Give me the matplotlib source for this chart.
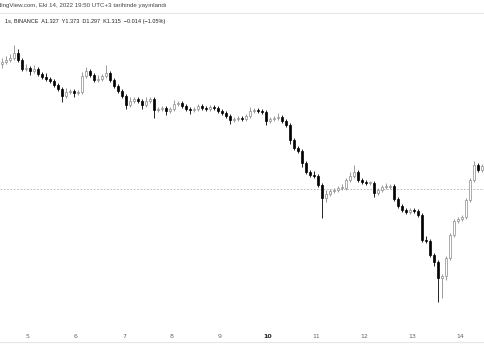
import matplotlib.pyplot as plt
from matplotlib.lines import Line2D

# 2 saatlik mumlar, 4 Ekim 10:00'dan itibaren (kapanislar)
closes = [1.3690, 1.3700, 1.3710, 1.3735, 1.3700, 1.3655, 1.3660, 1.3645, 1.3655, 1.3630,
          1.3615, 1.3605, 1.3595, 1.3575, 1.3555, 1.3520, 1.3540, 1.3545, 1.3535, 1.3540,
          1.3620, 1.3645, 1.3625, 1.3600, 1.3605, 1.3620, 1.3635, 1.3600, 1.3570, 1.3545,
          1.3520, 1.3475, 1.3495, 1.3505, 1.3495, 1.3475, 1.3495, 1.3505, 1.3450, 1.3455,
          1.3460, 1.3445, 1.3455, 1.3480, 1.3485, 1.3470, 1.3455, 1.3450, 1.3455, 1.3470,
          1.3460, 1.3455, 1.3465, 1.3460, 1.3445, 1.3435, 1.3420, 1.3400, 1.3405, 1.3410,
          1.3405, 1.3420, 1.3445, 1.3450, 1.3445, 1.3440, 1.3395, 1.3405, 1.3410, 1.3415,
          1.3395, 1.3375, 1.3300, 1.3260, 1.3245, 1.3185, 1.3140, 1.3125, 1.3120, 1.3075,
          1.3010, 1.3030, 1.3045, 1.3050, 1.3060, 1.3060, 1.3100, 1.3120, 1.3140, 1.3100,
          1.3090, 1.3085, 1.3085, 1.3035, 1.3050, 1.3065, 1.3065, 1.3070, 1.3005, 1.2970,
          1.2950, 1.2940, 1.2950, 1.2945, 1.2925, 1.2800, 1.2795, 1.2725, 1.2690, 1.2610,
          1.2620, 1.2710, 1.2825, 1.2895, 1.2905, 1.2915, 1.3000, 1.3100, 1.3175, 1.3150,
          1.3170]
first_open = 1.3680

# fitil uzunluklari (0.001 birim)
wick_up = [2, 2, 2, 4, 2, 1, 2, 1, 2, 1,
           1, 2, 1, 1, 1, 1, 2, 1, 1, 1,
           2, 2, 1, 1, 2, 1, 4, 1, 1, 1,
           1, 1, 2, 1, 1, 1, 2, 1, 1, 1,
           1, 1, 1, 2, 1, 1, 1, 1, 1, 1,
           1, 1, 1, 1, 1, 1, 1, 1, 1, 1,
           1, 1, 2, 1, 1, 1, 1, 1, 1, 2,
           1, 1, 1, 1, 1, 1, 1, 1, 2, 1,
           1, 2, 1, 1, 1, 2, 1, 2, 3.5, 1,
           1, 1, 1, 1, 1, 1, 2, 1, 1, 1,
           1, 1, 1, 1, 1, 1, 2, 1, 1, 1,
           1, 1, 1, 1, 1, 1, 1, 1, 2, 1,
           1]
wick_dn = [2, 1, 1, 1, 1, 1, 1, 2, 1, 1,
           1, 1, 1, 1, 1, 3, 1, 1, 2, 1,
           1, 1, 1, 1, 1, 1, 1, 1, 1, 1,
           1, 2, 1, 1, 1, 2, 1, 1, 4, 1,
           1, 2, 1, 1, 1, 1, 1, 2, 1, 1,
           1, 1, 1, 1, 1, 1, 1, 2, 1, 1,
           1, 1, 1, 1, 1, 1, 2, 1, 1, 1,
           1, 1, 2, 1, 1, 2, 1, 1, 1, 1,
           10, 2, 1, 1, 1, 1, 1, 1, 1, 1,
           1, 1, 1, 2, 1, 1, 1, 1, 1, 1,
           1, 1, 1, 1, 1, 1, 1, 1, 2, 12,
           10, 2, 1, 1, 1, 1, 1, 1, 1, 1,
           1]

days = [5, 6, 7, 8, 9, 10, 11, 12, 13, 14]
last_price = 1.3055

title = "TradingView.com, Eki 14, 2022 19:50 UTC+3 tarihinde yayınlandı"
info = "1s, BINANCE  A1.327  Y1.373  D1.297  K1.315  \u22120.014 (\u22121.05%)"

fig = plt.figure(figsize=(4.85, 3.6), dpi=100)
ax = fig.add_axes([0, 0, 1, 1])
ax.set_xlim(0, 242.5)
ax.set_ylim(1.22, 1.40)
ax.axis("off")

opens = [first_open] + closes[:-1]
for k, (o, c) in enumerate(zip(opens, closes)):
    x = 2 * k + 1
    up = c >= o
    col = "#8a8a8a" if up else "black"
    hi = max(o, c) + wick_up[k] * 0.001
    lo = min(o, c) - wick_dn[k] * 0.001
    ax.vlines(x, lo, hi, color=col, linewidth=0.6, zorder=2)
    h = max(abs(c - o), 0.0004)
    ax.bar(x, h, bottom=min(o, c), width=1.3, color="white" if up else "black",
           edgecolor=col, linewidth=0.5, zorder=3)

ax.axhline(last_price, color="#b0b0b0", linewidth=0.6, linestyle=(0, (2, 2)), zorder=1)

# ust ve alt cizgiler
fig.add_artist(Line2D([0, 1], [1 - 13 / 360, 1 - 13 / 360], color="#e6e6e6", linewidth=0.8))
fig.add_artist(Line2D([0, 1], [1 - 342 / 360, 1 - 342 / 360], color="#e6e6e6", linewidth=0.8))

# baslik sol kenarda kesik, sag ucu x=167'de
fig.text(167 / 485, 1 - 5 / 360, title, fontsize=4.4, family="Liberation Sans",
         color="#444444", va="center", ha="right")
fig.text(5 / 485, 1 - 22 / 360, info, fontsize=4.0, family="Liberation Sans",
         color="#222222", va="center", ha="left")

for i, d in enumerate(days):
    fig.text((28 + 48 * i) / 485, 1 - 336 / 360, str(d), fontsize=4.5,
             color="#222222" if d == 10 else "#666666", ha="center", va="center",
             fontweight="bold" if d == 10 else "normal")

fig.savefig("out.png", dpi=100, facecolor="white")
